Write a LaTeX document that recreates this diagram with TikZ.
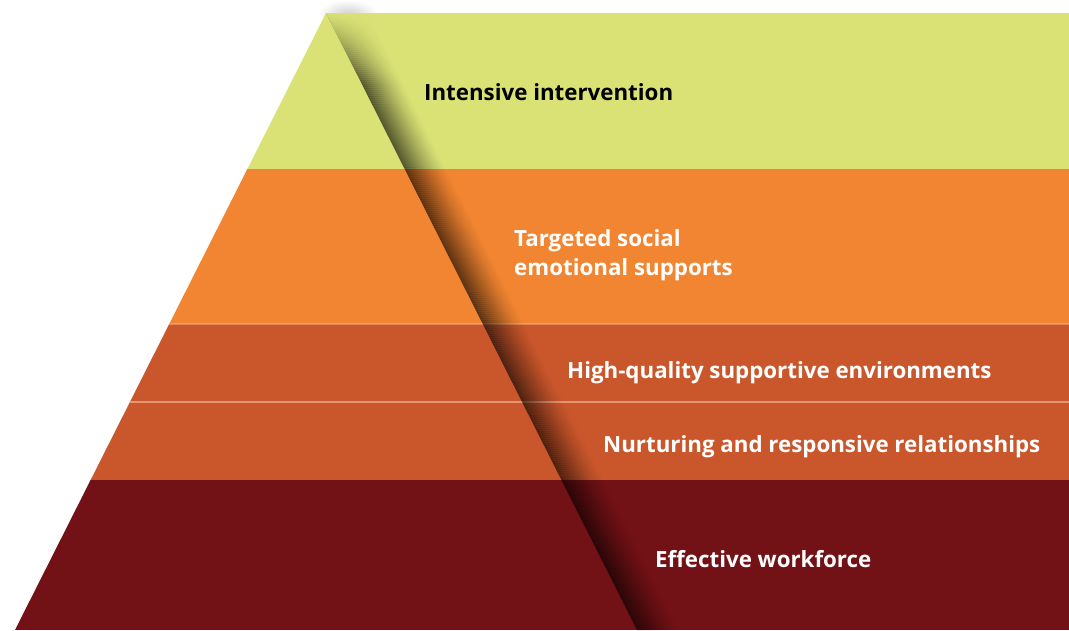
\documentclass[tikz,border=0pt]{standalone}
\usepackage{fontspec}
\setmainfont{Open Sans}
\usetikzlibrary{fadings}
\definecolor{cgreen}{RGB}{218,226,118}
\definecolor{corange}{RGB}{242,133,49}
\definecolor{crust}{RGB}{202,87,44}
\definecolor{cdark}{RGB}{114,18,22}
\definecolor{cline}{RGB}{230,150,115}
\tikzfading[name=fadedown, top color=transparent!0, bottom color=transparent!100]
\tikzfading[name=fadecirc, inner color=transparent!0, outer color=transparent!100]
\begin{document}
\begin{tikzpicture}[x=1pt,y=-1pt,
  lab/.style={anchor=base west, inner sep=0, font=\bfseries\fontsize{22.3}{29}\selectfont, text=white}]
\useasboundingbox (0,0) rectangle (1069,630);
\fill[black, opacity=0.18, path fading=fadecirc] (348,14) ellipse [x radius=30, y radius=14];
\begin{scope}
  \clip (15,630) -- (326,13) -- (1069,13) -- (1069,630) -- cycle;
  \fill[cgreen] (0,0) rectangle (1069,169);
  \fill[corange] (0,169) rectangle (1069,324);
  \fill[crust] (0,324) rectangle (1069,480);
  \fill[cdark] (0,480) rectangle (1069,630);
  \fill[cline] (0,401) rectangle (1069,403);
  \fill[corange!60!white, opacity=0.5] (0,323.3) rectangle (1069,324.6);
\end{scope}
\begin{scope}
  \clip (326,13) -- (637,630) -- (1069,630) -- (1069,13) -- cycle;
  \foreach \i in {0,...,41} {
    \pgfmathsetmacro\op{0.6*(1-\i/42)^1.4}
    \fill[black, opacity=\op] (326+\i,13) -- (637+\i,630) -- (638+\i,630) -- (327+\i,13) -- cycle;
  }
  \fill[cgreen, path fading=fadedown] (320,13) rectangle (440,85);
\end{scope}
\node[lab, text=black] (t1) at (424,100) {Intensive intervention};
\node[lab] (t2a) at (514,246) {Targeted social};
\node[lab] (t2b) at (514,275) {emotional supports};
\node[lab] (t3) at (567,378) {High-quality supportive environments};
\node[lab] (t4) at (603,452) {Nurturing and responsive relationships};
\node[lab] (t5) at (655,567) {Effective workforce};
\end{tikzpicture}
\end{document}
